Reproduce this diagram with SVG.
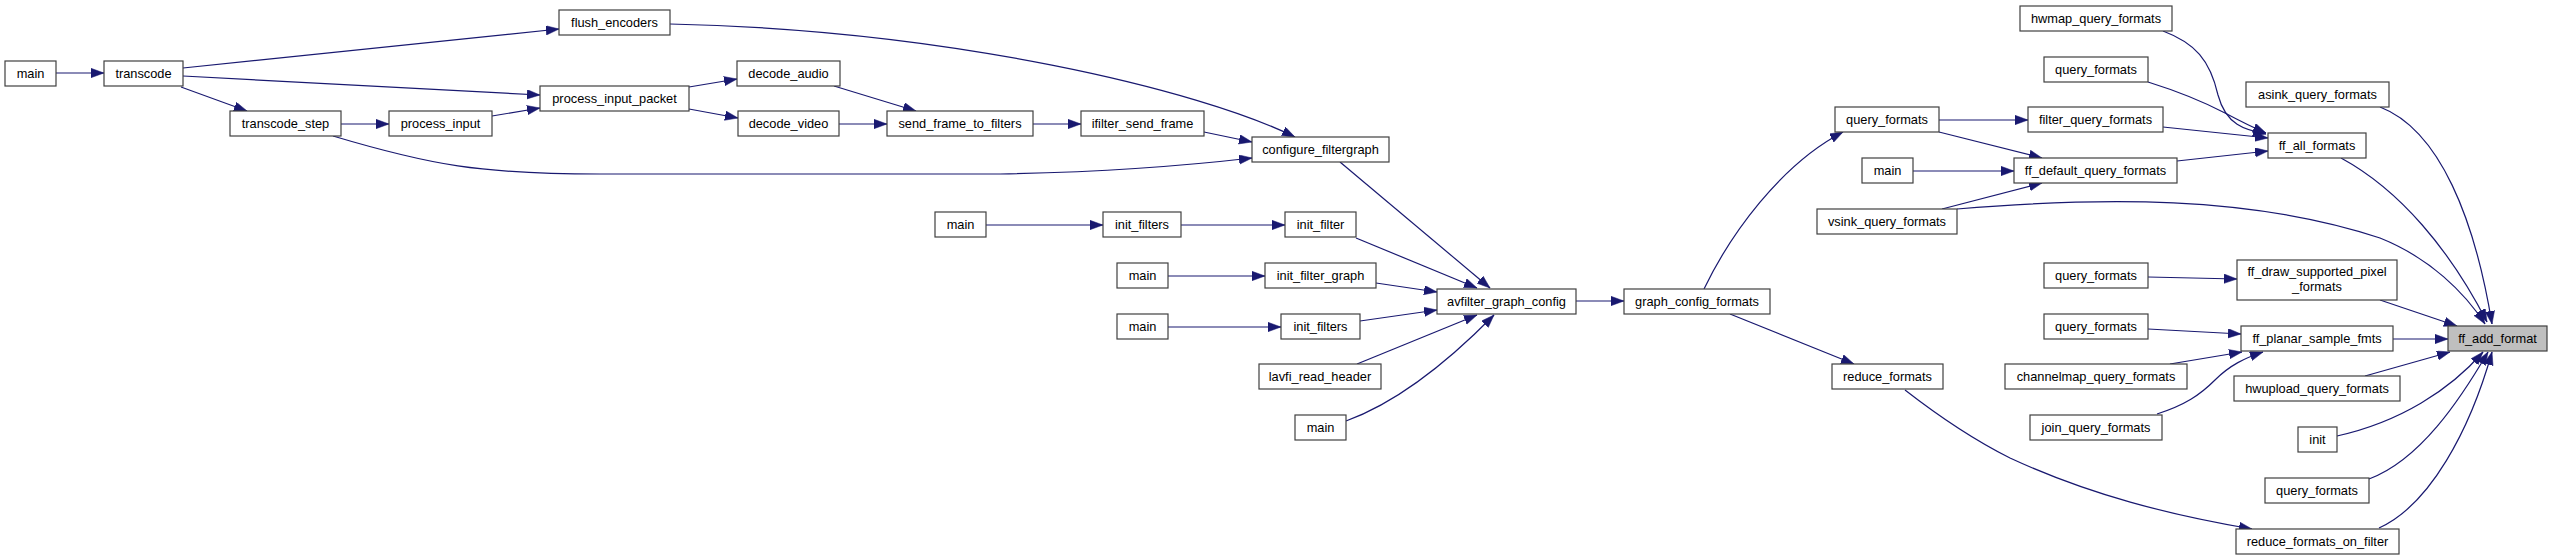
<svg xmlns="http://www.w3.org/2000/svg" width="2552" height="560" viewBox="0 0 2552 560">
<style>
.n rect{fill:#ffffff;stroke:#404040;stroke-width:1.2}
.n.hl rect{fill:#bfbfbf}
.n text{font-family:"Liberation Sans",Arial,sans-serif;font-size:12.8px;fill:#000;text-anchor:middle}
.e path{fill:none;stroke:#191970;stroke-width:1.2;marker-end:url(#ah)}
</style>
<defs>
<marker id="ah" markerUnits="userSpaceOnUse" markerWidth="14" markerHeight="10" refX="13" refY="4.7" orient="auto">
<path d="M0,0 L13,4.7 L0,9.4 z" fill="#191970" stroke="#191970" stroke-width="0.5"/>
</marker>
</defs>
<rect x="0" y="0" width="2552" height="560" fill="#ffffff"/>
<g id="connectors" class="e">
<path d="M56,73 L104,73"/>
<path d="M183,68 L559,29"/>
<path d="M183,76 L540,95"/>
<path d="M181,87 L247,111"/>
<path d="M341,124 L389,124"/>
<path d="M492,116 L540,108"/>
<path d="M333,136 C430,165 480,174 600,174 L1000,174 C1120,172 1200,164 1252,158"/>
<path d="M670,24 C950,30 1200,90 1295,137"/>
<path d="M689,87 L737,79"/>
<path d="M689,109 L738,118"/>
<path d="M834,86 L916,111"/>
<path d="M839,124 L887,124"/>
<path d="M1033,124 L1081,124"/>
<path d="M1204,132 L1252,142"/>
<path d="M1340,162 L1490,288"/>
<path d="M986,225 L1103,225"/>
<path d="M1181,225 L1285,225"/>
<path d="M1356,238 L1477,288"/>
<path d="M1168,276 L1265,276"/>
<path d="M1376,283 L1437,292"/>
<path d="M1168,327 L1281,327"/>
<path d="M1360,321 L1437,310"/>
<path d="M1357,364 L1477,315"/>
<path d="M1346,421 C1390,405 1440,370 1494,315"/>
<path d="M1576,301 L1624,301"/>
<path d="M1704,289 C1730,235 1780,165 1843,132"/>
<path d="M1730,314 L1854,364"/>
<path d="M1905,390 C1950,425 1980,443 2010,458 C2090,495 2170,515 2252,529"/>
<path d="M1939,120 L2028,120"/>
<path d="M1939,132 L2042,158"/>
<path d="M1913,171 L2014,171"/>
<path d="M1942,209 L2042,183"/>
<path d="M1957,209 C2100,197 2250,195 2380,238 C2430,258 2465,293 2485,324"/>
<path d="M2163,31 C2195,43 2210,60 2218,95 C2226,125 2245,130 2266,134"/>
<path d="M2148,82 C2180,92 2200,100 2225,113 C2240,121 2252,127 2266,133"/>
<path d="M2163,127 L2268,138"/>
<path d="M2177,161 L2268,151"/>
<path d="M2380,107 C2440,130 2475,220 2492,324"/>
<path d="M2341,158 C2400,190 2450,250 2487,322"/>
<path d="M2148,277 L2237,279"/>
<path d="M2380,300 L2457,326"/>
<path d="M2148,329 L2241,334"/>
<path d="M2170,364 L2242,352"/>
<path d="M2157,414 C2185,405 2200,395 2215,380 C2230,365 2245,358 2263,352"/>
<path d="M2393,339 L2448,339"/>
<path d="M2365,376 L2450,352"/>
<path d="M2337,436 C2400,422 2450,390 2483,352"/>
<path d="M2369,479 C2420,460 2460,400 2488,352"/>
<path d="M2379,528 C2430,505 2470,430 2492,352"/>
</g>
<g id="n_main1" class="n"><rect x="5" y="61" width="51" height="25"/><text x="30.5" y="78">main</text></g>
<g id="n_transcode" class="n"><rect x="104" y="61" width="79" height="25"/><text x="143.5" y="78">transcode</text></g>
<g id="n_flush_encoders" class="n"><rect x="559" y="10" width="111" height="25"/><text x="614.5" y="27">flush_encoders</text></g>
<g id="n_process_input_packet" class="n"><rect x="540" y="86" width="149" height="25"/><text x="614.5" y="103">process_input_packet</text></g>
<g id="n_transcode_step" class="n"><rect x="230" y="111" width="111" height="25"/><text x="285.5" y="128">transcode_step</text></g>
<g id="n_process_input" class="n"><rect x="389" y="111" width="103" height="25"/><text x="440.5" y="128">process_input</text></g>
<g id="n_decode_audio" class="n"><rect x="737" y="61" width="103" height="25"/><text x="788.5" y="78">decode_audio</text></g>
<g id="n_decode_video" class="n"><rect x="738" y="111" width="101" height="25"/><text x="788.5" y="128">decode_video</text></g>
<g id="n_send_frame_to_filters" class="n"><rect x="887" y="111" width="146" height="25"/><text x="960" y="128">send_frame_to_filters</text></g>
<g id="n_ifilter_send_frame" class="n"><rect x="1081" y="111" width="123" height="25"/><text x="1142.5" y="128">ifilter_send_frame</text></g>
<g id="n_configure_filtergraph" class="n"><rect x="1252" y="137" width="137" height="25"/><text x="1320.5" y="154">configure_filtergraph</text></g>
<g id="n_main2" class="n"><rect x="935" y="212" width="51" height="25"/><text x="960.5" y="229">main</text></g>
<g id="n_init_filters1" class="n"><rect x="1103" y="212" width="78" height="25"/><text x="1142" y="229">init_filters</text></g>
<g id="n_init_filter" class="n"><rect x="1285" y="212" width="71" height="25"/><text x="1320.5" y="229">init_filter</text></g>
<g id="n_main3" class="n"><rect x="1117" y="263" width="51" height="25"/><text x="1142.5" y="280">main</text></g>
<g id="n_init_filter_graph" class="n"><rect x="1265" y="263" width="111" height="25"/><text x="1320.5" y="280">init_filter_graph</text></g>
<g id="n_main4" class="n"><rect x="1117" y="314" width="51" height="25"/><text x="1142.5" y="331">main</text></g>
<g id="n_init_filters2" class="n"><rect x="1281" y="314" width="79" height="25"/><text x="1320.5" y="331">init_filters</text></g>
<g id="n_lavfi_read_header" class="n"><rect x="1259" y="364" width="122" height="25"/><text x="1320" y="381">lavfi_read_header</text></g>
<g id="n_main5" class="n"><rect x="1295" y="415" width="51" height="25"/><text x="1320.5" y="432">main</text></g>
<g id="n_avfilter_graph_config" class="n"><rect x="1437" y="289" width="139" height="25"/><text x="1506.5" y="306">avfilter_graph_config</text></g>
<g id="n_graph_config_formats" class="n"><rect x="1624" y="289" width="146" height="25"/><text x="1697" y="306">graph_config_formats</text></g>
<g id="n_query_formats1" class="n"><rect x="1835" y="107" width="104" height="25"/><text x="1887" y="124">query_formats</text></g>
<g id="n_main6" class="n"><rect x="1862" y="158" width="51" height="25"/><text x="1887.5" y="175">main</text></g>
<g id="n_vsink_query_formats" class="n"><rect x="1817" y="209" width="140" height="25"/><text x="1887" y="226">vsink_query_formats</text></g>
<g id="n_reduce_formats" class="n"><rect x="1832" y="364" width="111" height="25"/><text x="1887.5" y="381">reduce_formats</text></g>
<g id="n_hwmap_query_formats" class="n"><rect x="2020" y="6" width="152" height="25"/><text x="2096" y="23">hwmap_query_formats</text></g>
<g id="n_query_formats2" class="n"><rect x="2044" y="57" width="104" height="25"/><text x="2096" y="74">query_formats</text></g>
<g id="n_filter_query_formats" class="n"><rect x="2028" y="107" width="135" height="25"/><text x="2095.5" y="124">filter_query_formats</text></g>
<g id="n_ff_default_query_formats" class="n"><rect x="2014" y="158" width="163" height="25"/><text x="2095.5" y="175">ff_default_query_formats</text></g>
<g id="n_query_formats3" class="n"><rect x="2044" y="263" width="104" height="25"/><text x="2096" y="280">query_formats</text></g>
<g id="n_query_formats4" class="n"><rect x="2044" y="314" width="104" height="25"/><text x="2096" y="331">query_formats</text></g>
<g id="n_channelmap_query_formats" class="n"><rect x="2005" y="364" width="182" height="25"/><text x="2096" y="381">channelmap_query_formats</text></g>
<g id="n_join_query_formats" class="n"><rect x="2030" y="415" width="132" height="25"/><text x="2096" y="432">join_query_formats</text></g>
<g id="n_asink_query_formats" class="n"><rect x="2246" y="82" width="143" height="25"/><text x="2317.5" y="99">asink_query_formats</text></g>
<g id="n_ff_all_formats" class="n"><rect x="2268" y="133" width="98" height="25"/><text x="2317" y="150">ff_all_formats</text></g>
<g id="n_ff_draw_supported_pixel_formats" class="n"><rect x="2237" y="260" width="160" height="40"/><text x="2317" y="276">ff_draw_supported_pixel</text><text x="2317" y="291">_formats</text></g>
<g id="n_ff_planar_sample_fmts" class="n"><rect x="2241" y="326" width="152" height="25"/><text x="2317" y="343">ff_planar_sample_fmts</text></g>
<g id="n_hwupload_query_formats" class="n"><rect x="2234" y="376" width="166" height="25"/><text x="2317" y="393">hwupload_query_formats</text></g>
<g id="n_init" class="n"><rect x="2298" y="427" width="39" height="25"/><text x="2317.5" y="444">init</text></g>
<g id="n_query_formats5" class="n"><rect x="2265" y="478" width="104" height="25"/><text x="2317" y="495">query_formats</text></g>
<g id="n_reduce_formats_on_filter" class="n"><rect x="2236" y="529" width="163" height="25"/><text x="2317.5" y="546">reduce_formats_on_filter</text></g>
<g id="n_ff_add_format" class="n hl"><rect x="2448" y="326" width="99" height="25"/><text x="2497.5" y="343">ff_add_format</text></g>
</svg>
